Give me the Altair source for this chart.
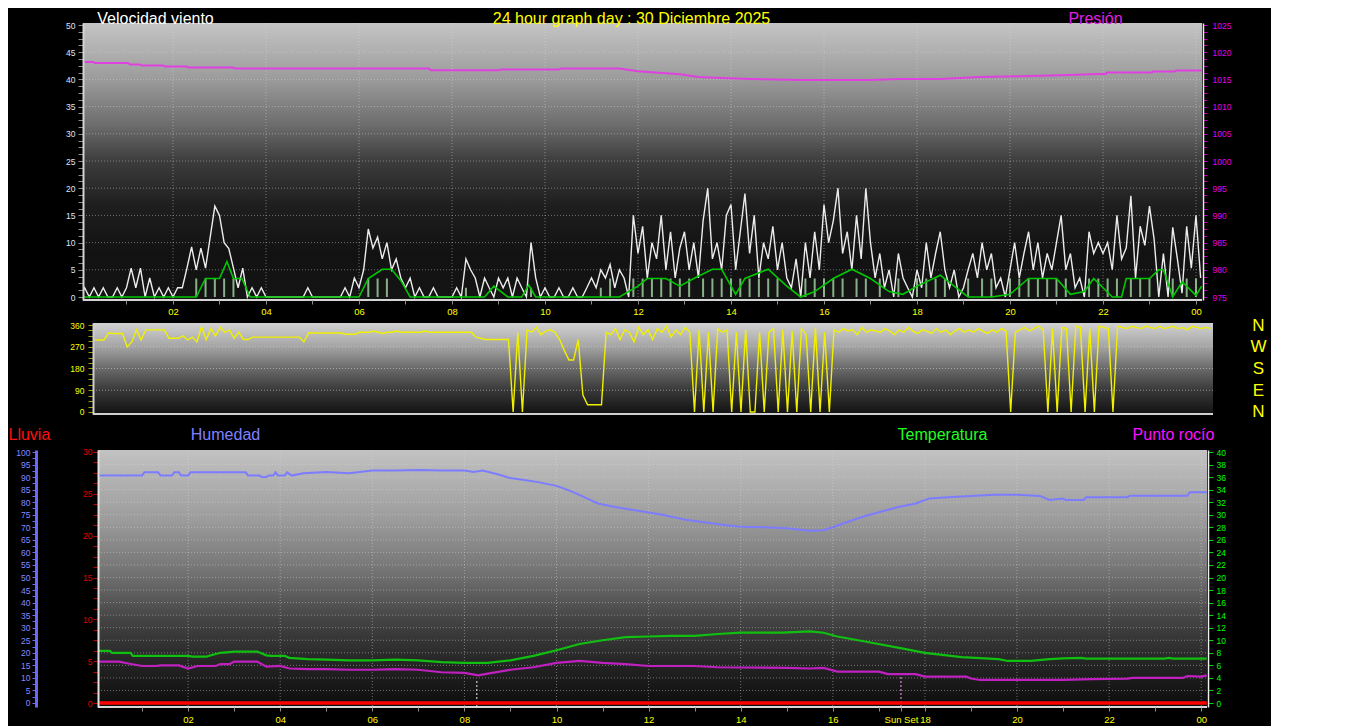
import altair as alt
import pandas as pd

FONT = "Liberation Sans"

# ---------------- shared time axis ----------------
hour_ticks = list(range(1, 25))
grid_hours = [2, 4, 6, 8, 10, 12, 14, 16, 18, 20, 22, 24]
sunrise_hour = 8.27
sunset_hour = 17.48
sunset_label = "Sun Set"
graph_title = "24 hour graph day : 30 Diciembre 2025"

# ---------------- top panel: wind speed (readings every 0.1 h) ----------------
wind_speed = [
    0, 1.7, 0, 1.7, 0, 1.7, 0, 0, 1.7, 0,
    1.7, 5.3, 1.7, 5.3, 0, 3.5, 0, 1.7, 0, 1.7,
    0, 1.7, 1.7, 5.3, 9.2, 5, 9, 5.3, 11, 16.7,
    15, 10, 8.9, 5.3, 1.7, 5.3, 0, 1.7, 0, 1.7,
    0, 0, 0, 0, 0, 0, 0, 0, 0, 1.7,
    0, 0, 0, 0, 0, 0, 0, 1.7, 0, 3.5,
    1.7, 5, 12.5, 9, 11, 7, 10, 5, 7, 3.5,
    1.7, 3.5, 0, 1.7, 0, 0, 1.7, 0, 0, 0,
    0, 1.7, 0, 7, 5, 3.5, 0, 3.5, 1.7, 0,
    3.5, 1.7, 3.5, 0, 3.5, 1.7, 0, 10, 3.5, 0,
    1.7, 0, 0, 1.7, 0, 0, 1.7, 0, 0, 1.7,
    3.5, 1.7, 5, 3.5, 6, 1.7, 5, 3.5, 0, 15,
    8, 13, 3.5, 10, 7, 15, 5, 12, 3.5, 9,
    12, 5, 10, 3.5, 14, 20, 7, 10, 5, 15,
    17, 5, 12, 19, 8, 15, 3.5, 10, 7, 13,
    5, 10, 3.5, 1.7, 7, 0, 10, 3.5, 12, 5,
    17, 10, 14, 20, 8, 12, 5, 15, 7, 20,
    10, 3.5, 8, 1.7, 5, 0, 8, 3.5, 1.7, 0,
    5, 1.7, 10, 3.5, 8, 12, 5, 1.7, 5, 0,
    1.7, 5, 8, 3.5, 10, 5, 8, 1.7, 3.5, 0,
    5, 10, 3.5, 8, 12, 5, 10, 3.5, 8, 5,
    10, 15, 5, 8, 1.7, 3.5, 0, 12, 8, 10,
    8, 10, 5, 15, 7, 9, 18.6, 3.5, 13, 9.5,
    16.7, 10.6, 0, 8, 0, 12.8, 7, 0.7, 13, 5.3,
    15, 3.5,
]
wind_pale = [
    0, 0, 0, 0, 0, 0, 0, 0, 0, 0,
    0, 0, 0, 0, 0, 0, 0, 0, 0, 0,
    0, 0, 0, 0, 0, 3.4, 0, 3.4, 0, 3.4,
    0, 3.4, 0, 3.4, 0, 0, 0, 0, 0, 0,
    0, 0, 0, 0, 0, 0, 0, 0, 0, 0,
    0, 0, 0, 0, 0, 0, 0, 0, 0, 0,
    0, 0, 3.4, 0, 3.4, 0, 3.4, 0, 0, 0,
    0, 0, 0, 0, 0, 0, 0, 0, 0, 0,
    0, 0, 0, 1.7, 0, 0, 0, 0, 0, 0,
    0, 0, 0, 0, 0, 0, 0, 1.7, 0, 0,
    0, 0, 0, 0, 0, 0, 0, 0, 0, 0,
    0, 0, 1.7, 0, 3.4, 0, 0, 0, 0, 3.4,
    0, 3.4, 0, 3.4, 0, 3.4, 0, 3.4, 0, 3.4,
    0, 3.4, 0, 0, 3.4, 0, 3.4, 0, 3.4, 0,
    3.4, 0, 3.4, 0, 3.4, 0, 3.4, 0, 3.4, 0,
    3.4, 0, 0, 0, 0, 0, 3.4, 0, 3.4, 0,
    3.4, 0, 3.4, 0, 3.4, 0, 0, 3.4, 0, 3.4,
    0, 0, 3.4, 0, 0, 0, 3.4, 0, 0, 0,
    3.4, 0, 3.4, 0, 3.4, 0, 3.4, 0, 0, 0,
    0, 3.4, 0, 0, 3.4, 0, 3.4, 0, 0, 0,
    3.4, 0, 3.4, 0, 3.4, 0, 3.4, 0, 3.4, 0,
    3.4, 0, 3.4, 0, 0, 0, 0, 3.4, 0, 3.4,
    0, 3.4, 0, 3.4, 0, 0, 3.4, 0, 3.4, 0,
    3.4, 0, 0, 0, 0, 3.4, 0, 0, 3.4, 0,
    3.4, 0,
]
wind_avg_t = [0.0, 2.5, 2.7, 3.0, 3.16, 3.3, 3.48, 3.66, 6.0, 6.2,
              6.5, 6.7, 6.9, 7.1, 8.7, 8.9, 9.2, 9.5, 9.65, 9.8,
              11.6, 12.0, 12.2, 12.6, 12.9, 13.2, 13.6, 13.8, 14.1, 14.3,
              14.8, 15.2, 15.5, 15.8, 16.2, 16.6, 17.0, 17.4, 17.7, 18.0,
              18.5, 18.8, 19.1, 19.6, 20.0, 20.4, 21.0, 21.3, 21.6, 21.8,
              22.2, 22.4, 22.5, 23.0, 23.2, 23.3, 23.5, 23.7, 24.0, 24.12]
wind_avg_v = [0, 0, 3.4, 3.4, 6.5, 3.4, 3.4, 0, 0, 3.4,
              5.1, 5.1, 3.0, 0, 0, 2.0, 0, 0, 2.2, 0,
              0, 2.0, 3.4, 3.4, 2.0, 3.4, 5.1, 5.1, 0.5, 3.4,
              5.1, 2.0, 0, 1.0, 3.4, 5.1, 3.4, 1.0, 0.5, 2.0,
              4.0, 2.0, 0, 0, 0.5, 3.4, 3.4, 0.5, 1.0, 3.4,
              0, 0, 3.4, 3.4, 5.0, 5.0, 0, 2.8, 0.3, 2.0]
pressure_t = [0.08, 0.28, 0.32, 1.03, 1.08, 1.29, 1.33, 1.78, 1.83, 2.30,
              2.32, 3.29, 3.33, 7.5, 7.55, 9.0, 9.05, 10.3, 10.35, 11.6,
              12.0, 12.9, 13.3, 13.8, 14.4, 15.5, 17.0, 17.6, 18.5, 19.35,
              20.2, 21.1, 21.9, 22.06, 22.08, 23.05, 23.08, 23.55, 23.57, 24.12]
pressure_v = [1018.21, 1018.21, 1018.03, 1018.03, 1017.73, 1017.73, 1017.55, 1017.55, 1017.38, 1017.38,
              1017.2, 1017.2, 1017.02, 1017.02, 1016.67, 1016.67, 1016.84, 1016.84, 1017.02, 1017.02,
              1016.5, 1015.96, 1015.43, 1015.25, 1015.07, 1014.89, 1014.89, 1015.07, 1015.07, 1015.43,
              1015.6, 1015.78, 1016.0, 1016.0, 1016.26, 1016.26, 1016.44, 1016.44, 1016.62, 1016.62]
wind_grid = [5, 10, 15, 20, 25, 30, 35, 40, 45]
wind_ticks = [i * 1.25 for i in range(41)]
pressure_ticks = [975 + i * 1.25 for i in range(41)]

# ---------------- middle panel: wind direction (every 0.1 h) ----------------
wind_dir = [
    298, 298, 298, 298, 327, 325, 325, 325, 269, 290,
    340, 298, 340, 340, 340, 340, 340, 305, 305, 305,
    315, 298, 310, 290, 352, 300, 345, 315, 350, 330,
    340, 305, 330, 300, 300, 310, 310, 310, 310, 310,
    310, 310, 310, 310, 310, 310, 290, 327, 327, 327,
    327, 327, 327, 327, 327, 322, 322, 322, 330, 330,
    330, 335, 330, 325, 330, 330, 335, 330, 330, 330,
    330, 330, 335, 330, 330, 330, 330, 330, 330, 330,
    330, 330, 330, 310, 305, 300, 300, 300, 300, 300,
    300, 0, 330, 0, 340, 330, 350, 320, 335, 340,
    330, 300, 255, 215, 215, 300, 70, 30, 30, 30,
    30, 330, 320, 345, 300, 340, 330, 290, 350, 320,
    340, 300, 345, 330, 355, 310, 340, 320, 350, 330,
    0, 340, 0, 330, 0, 345, 330, 340, 0, 330,
    0, 340, 0, 0, 330, 0, 330, 345, 0, 340,
    0, 335, 0, 345, 320, 0, 350, 0, 330, 0,
    340, 330, 345, 335, 340, 320, 350, 330, 340, 335,
    330, 345, 335, 320, 340, 330, 350, 335, 325, 340,
    335, 325, 345, 330, 340, 320, 335, 345, 330, 340,
    330, 345, 335, 325, 340, 330, 345, 335, 0, 330,
    340, 350, 335, 345, 355, 340, 0, 345, 0, 350,
    345, 0, 355, 350, 0, 345, 0, 355, 350, 345,
    0, 355, 350, 345, 355, 350, 345, 355, 350, 345,
    355, 345, 350, 355, 345, 350, 340, 355, 350, 345,
    350, 345,
]
dir_grid = [90, 180, 270]
dir_ticks = [i * 22.5 for i in range(17)]
compass_values = [0, 90, 180, 270, 360]
compass_labels = ["N", "E", "S", "W", "N"]

# ---------------- bottom panel: humidity, temperature, dew point, rain ----------------
hum_t = [0.04, 1.0, 1.05, 1.35, 1.4, 1.65, 1.7, 1.8, 1.85, 2.0,
         2.05, 3.25, 3.3, 3.55, 3.6, 3.7, 3.75, 3.85, 3.9, 3.95,
         4.1, 4.15, 4.25, 4.5, 5.0, 5.5, 6.0, 6.5, 7.0, 7.5,
         8.0, 8.2, 8.4, 8.7, 9.0, 9.3, 9.6, 10.0, 10.3, 10.6,
         10.9, 11.3, 11.8, 12.3, 12.8, 13.2, 13.6, 14.0, 14.5, 15.0,
         15.5, 15.8, 16.0, 16.3, 16.7, 17.0, 17.4, 17.8, 18.1, 18.5,
         19.0, 19.5, 20.0, 20.5, 20.7, 21.0, 21.05, 21.45, 21.5, 22.4,
         22.45, 23.7, 23.75, 24.12]
hum_v = [90.6, 90.6, 91.9, 91.9, 90.6, 90.6, 91.9, 91.9, 90.6, 90.6,
         91.9, 91.9, 90.6, 90.6, 90.0, 90.0, 90.6, 90.6, 91.9, 90.6,
         90.6, 91.9, 90.6, 91.5, 92.0, 91.5, 92.6, 92.6, 92.8, 92.6,
         92.6, 92.0, 92.6, 91.2, 89.6, 88.8, 88.0, 86.5, 84.5, 82.0,
         79.5, 78.0, 76.5, 75.0, 73.0, 72.0, 71.0, 70.2, 70.0, 69.6,
         68.6, 68.8, 70.0, 72.0, 74.5, 76.0, 78.0, 79.5, 81.5, 82.0,
         82.5, 83.0, 83.0, 82.5, 80.9, 81.5, 80.9, 80.9, 82.0, 82.0,
         82.6, 82.6, 84.0, 84.0]
temp_t = [0.04, 0.3, 0.35, 0.75, 0.8, 2.0, 2.1, 2.4, 2.5, 2.7,
          3.0, 3.5, 3.7, 3.8, 4.1, 4.2, 4.6, 5.0, 5.5, 6.0,
          6.5, 7.0, 7.5, 8.0, 8.5, 9.0, 9.5, 10.0, 10.5, 11.0,
          11.5, 12.0, 12.5, 13.0, 13.5, 14.0, 14.5, 14.9, 15.5, 15.8,
          16.1, 16.7, 17.5, 18.0, 18.8, 19.6, 19.8, 20.3, 20.7, 21.0,
          21.4, 21.5, 23.2, 23.3, 23.4, 24.12]
temp_v = [8.3, 8.3, 8.0, 8.0, 7.5, 7.5, 7.4, 7.4, 7.6, 8.0,
          8.2, 8.2, 7.6, 7.5, 7.5, 7.2, 7.0, 6.9, 6.8, 6.8,
          6.9, 6.8, 6.5, 6.4, 6.4, 6.8, 7.5, 8.4, 9.4, 10.0,
          10.5, 10.6, 10.7, 10.7, 11.0, 11.2, 11.2, 11.2, 11.4, 11.2,
          10.6, 9.8, 8.7, 8.0, 7.3, 7.0, 6.7, 6.7, 7.0, 7.1,
          7.2, 7.06, 7.06, 7.2, 7.06, 7.06]
dew_t = [0.04, 0.5, 0.7, 1.0, 1.3, 1.4, 1.8, 2.0, 2.2, 2.6,
         2.7, 2.9, 3.0, 3.5, 3.7, 4.0, 4.2, 4.6, 5.0, 5.5,
         6.0, 6.5, 7.0, 7.5, 8.0, 8.3, 8.6, 9.0, 9.5, 10.0,
         10.5, 11.0, 11.5, 12.0, 13.0, 13.5, 15.0, 15.5, 15.8, 16.1,
         17.0, 17.2, 17.8, 18.0, 18.9, 19.0, 19.2, 21.0, 21.6, 22.4,
         22.5, 23.6, 23.7, 24.0, 24.12]
dew_v = [6.6, 6.6, 6.3, 5.9, 5.9, 6.0, 6.0, 5.5, 5.9, 5.9,
         6.2, 6.2, 6.6, 6.6, 5.8, 5.9, 5.5, 5.4, 5.4, 5.3,
         5.3, 5.4, 5.3, 4.9, 4.8, 4.4, 4.8, 5.3, 5.7, 6.4,
         6.7, 6.4, 6.2, 5.9, 5.9, 5.7, 5.6, 5.5, 5.6, 5.0,
         5.0, 4.6, 4.6, 4.2, 4.2, 3.9, 3.67, 3.67, 3.8, 3.9,
         4.0, 4.0, 4.3, 4.2, 4.4]
rain_t = [0.04, 24.12]
rain_v = [0, 0]
sunrise_top = 3.7
sunset_top = 5.0
temp_grid = [2, 4, 6, 8, 10, 12, 14, 16, 18, 20, 22, 24, 26, 28, 30, 32, 34, 36, 38]
temp_ticks = [0, 2, 4, 6, 8, 10, 12, 14, 16, 18, 20, 22, 24, 26, 28, 30, 32, 34, 36, 38, 40]
rain_ticks = [i * 1.25 for i in range(25)]
hum_ticks = [i * 2.5 for i in range(41)]

# ---------------- layout (scale domains chosen to place the panels) ----------------
W = 1130
TOP_H, MID_H, BOT_H = 277, 91, 257
TOP_X = [0.0645, 24.366]
TOP_PLOT = [0.0645, 24.13]
WIND_Y = [-0.551, 50.368]
PRES_Y = [974.449, 1025.368]
MID_X = [-0.1505, 24.151]
MID_PLOT = [0.0645, 24.151]
DIR_Y = [-8.28, 368.28]
BOT_X = [-0.2823, 24.256]
BOT_PLOT = [0.0434, 24.126]
TEMP_Y = [-0.637, 40.319]
RAIN_Y = [-0.478, 30.239]
HUM_Y = [-1.594, 100.797]

HOUR_EXPR = (f"datum.value == {sunset_hour} ? '{sunset_label}' : "
             "(datum.value % 2 != 0 ? '' : (datum.value == 24 ? '00' : "
             "(datum.value < 10 ? '0' + datum.value : '' + datum.value)))")
EVERY5 = "datum.value % 5 == 0 ? '' + datum.value : ''"
EVERY90 = "datum.value % 90 == 0 ? '' + datum.value : ''"
COMPASS_EXPR = " : ".join(f"datum.value == {v} ? '{l}'" for v, l in zip(compass_values, compass_labels)) + " : ''"


def sc(dom):
    return alt.Scale(domain=dom, nice=False, zero=False)


def X(field, dom, axis=None):
    return alt.X(f"{field}:Q", scale=sc(dom), axis=axis)


def Y(field, dom, axis=None):
    return alt.Y(f"{field}:Q", scale=sc(dom), axis=axis)


def grad(stops):
    return alt.LinearGradient(gradient="linear",
                              stops=[alt.GradientStop(color=c, offset=o) for o, c in stops],
                              x1=0, x2=0, y1=0, y2=1)


def background(xdom, plot, ydom, stops, xaxis):
    df = pd.DataFrame({"t0": [plot[0]], "t1": [plot[1]], "y0": [ydom[0]], "y1": [ydom[1]]})
    return alt.Chart(df).mark_rect(fill=grad(stops)).encode(
        x=X("t0", xdom, xaxis), x2="t1", y=Y("y0", ydom), y2="y1")


def hgrid(values, xdom, plot, ydom, xaxis, yaxis=None, opacity=0.45):
    df = pd.DataFrame({"g": values, "t0": plot[0], "t1": plot[1]})
    return alt.Chart(df).mark_rule(color="#dcdcdc", strokeDash=[1, 2], strokeWidth=1, opacity=opacity).encode(
        x=X("t0", xdom, xaxis), x2="t1", y=Y("g", ydom, yaxis))


def vgrid(xdom, xaxis):
    df = pd.DataFrame({"h": grid_hours})
    return alt.Chart(df).mark_rule(color="#dcdcdc", strokeDash=[1, 2], strokeWidth=1, opacity=0.45).encode(
        x=X("h", xdom, xaxis))


def floor(xdom, plot, ydom, color, xaxis):
    df = pd.DataFrame({"t0": [plot[0]], "t1": [plot[1]], "y": [ydom[0]]})
    return alt.Chart(df).mark_rule(color=color, strokeWidth=2).encode(
        x=X("t0", xdom, xaxis), x2="t1", y=Y("y", ydom))


def line(t, v, xdom, ydom, color, width, xaxis, axis=None, opacity=1.0, interp="linear", tmin=None):
    df = pd.DataFrame({"t": t, "v": v})
    ch = alt.Chart(df)
    if tmin is not None:
        ch = ch.transform_filter(alt.datum.t >= tmin)
    return ch.mark_line(color=color, strokeWidth=width, opacity=opacity, clip=True, interpolate=interp).encode(
        x=X("t", xdom, xaxis), y=Y("v", ydom, axis))


def spikes(t, v, xdom, ydom, color, width, xaxis, opacity=1.0):
    df = pd.DataFrame({"t": t, "v": v, "base": 0})
    return alt.Chart(df).transform_filter(alt.datum.v > 0).mark_rule(
        color=color, strokeWidth=width, opacity=opacity).encode(
        x=X("t", xdom, xaxis), y=Y("v", ydom), y2="base")


COMMON = dict(grid=False, labelOverlap=False, zindex=1, titleAngle=0, titleBaseline="alphabetic",
              titleFontSize=16, titleFontWeight="normal", titleFont=FONT, labelFont=FONT, minExtent=0)

top_x_axis = alt.Axis(orient="bottom", values=hour_ticks, labelExpr=HOUR_EXPR, domain=False, ticks=True,
                      tickSize=4, tickColor="#8c8c8c", labels=True,
                      labelColor="#ffff00", labelFontSize=9.5, labelPadding=2, labelFlush=False,
                      title=graph_title, titleColor="#ffff00", titleAlign="center",
                      titleX=548, titleY=-TOP_H, **COMMON)
wind_axis = alt.Axis(orient="left", values=wind_ticks, labelExpr=EVERY5, domain=True, domainColor="#d4d4d4",
                     domainWidth=2, tickSize=5, tickColor="#8c8c8c", labelColor="#dde6ff", labelFontSize=8.5,
                     labelPadding=3, title="Velocidad viento", titleColor="#ffffff", titleAlign="center",
                     titleX=72, titleY=0, **COMMON)
pres_axis = alt.Axis(orient="right", offset=-10, values=pressure_ticks, labelExpr=EVERY5, domain=True,
                     domainColor="#ececec", domainWidth=1.5, tickSize=4, tickColor="#c000c0",
                     labelColor="#e000e0", labelFontSize=8.5, labelPadding=5, title="Presión",
                     titleColor="#e020e0", titleAlign="center", titleX=-108, titleY=0, **COMMON)
dir_axis = alt.Axis(orient="left", offset=-10, values=dir_ticks, labelExpr=EVERY90, domain=True,
                    domainColor="#d0d0d0", domainWidth=2, tickSize=5, tickColor="#a0a000",
                    labelColor="#ffff00", labelFontSize=8.5, labelPadding=4, title=None, **COMMON)
compass_axis = alt.Axis(orient="right", values=compass_values, labelExpr=COMPASS_EXPR, domain=False,
                        ticks=False, tickSize=0, labelPadding=45, labelAlign="center", labelBaseline="middle",
                        labelColor="#ffff00", labelFontSize=17, title=None, **COMMON)
bot_x_axis = alt.Axis(orient="bottom", values=hour_ticks + [sunset_hour], labelExpr=HOUR_EXPR, domain=False,
                      ticks=True, tickSize=4, labels=True,
                      tickColor="#8c8c8c", labelColor="#ffff00", labelFontSize=9.5, labelPadding=3,
                      labelFlush=False, title=None, **COMMON)
rain_axis = alt.Axis(orient="left", offset=-15, values=rain_ticks, labelExpr=EVERY5, domain=True,
                     domainColor="#e2e2e2", domainWidth=2, tickSize=5, tickColor="#c00000",
                     labelColor="#e00000", labelFontSize=8.5, labelPadding=1, title="Lluvia",
                     titleColor="#ff1010", titleAlign="left", titleX=-90, titleY=-10.5, **COMMON)
hum_axis = alt.Axis(orient="left", offset=47, values=hum_ticks, labelExpr=EVERY5, domain=True,
                    domainColor="#6a6af0", domainWidth=3, tickSize=4, tickColor="#6a6aff",
                    labelColor="#8a8aff", labelFontSize=8.5, labelPadding=2, title="Humedad",
                    titleColor="#8080ff", titleAlign="center", titleX=189, titleY=-10.5, **COMMON)
temp_axis = alt.Axis(orient="right", offset=-5, values=temp_ticks, labelExpr="'' + datum.value", domain=True,
                     domainColor="#f0f0f0", domainWidth=1.5, tickSize=5, tickColor="#00d000",
                     labelColor="#00ff00", labelFontSize=8.5, labelPadding=3, title="Temperatura",
                     titleColor="#20ff20", titleAlign="center", titleX=-266, titleY=-10.5, **COMMON)
dew_axis = alt.Axis(orient="right", offset=-5, domain=False, ticks=False, labels=False,
                    title="Punto rocío", titleColor="#ff10ff", titleAlign="center",
                    titleX=-35, titleY=-10.5, **COMMON)

top_stops = [(0, "#c4c4c4"), (0.2, "#9c9c9c"), (0.37, "#6c6c6c"), (0.5, "#3c3c3c"),
             (0.66, "#1e1e1e"), (0.83, "#121212"), (1, "#141414")]
mid_stops = [(0, "#d2d2d2"), (0.25, "#a6a6a6"), (0.5, "#6a6a6a"), (0.75, "#363636"), (1, "#121212")]
bot_stops = [(0, "#c2c2c2"), (0.27, "#9c9c9c"), (0.47, "#747474"), (0.66, "#444444"),
             (0.82, "#262626"), (1, "#0c0c0c")]

wind_time = [round(i * 0.1, 2) for i in range(len(wind_speed))]

TA = top_x_axis
top = alt.layer(
    background(TOP_X, TOP_PLOT, WIND_Y, top_stops, TA),
    hgrid(wind_grid, TOP_X, TOP_PLOT, WIND_Y, TA),
    vgrid(TOP_X, TA),
    floor(TOP_X, TOP_PLOT, WIND_Y, "#d4d4d4", TA),
    spikes(wind_time, wind_pale, TOP_X, WIND_Y, "#b0e4b0", 2, TA, opacity=0.75),
    line(wind_time, wind_speed, TOP_X, WIND_Y, "#ececec", 1.4, TA, axis=wind_axis),
    line(wind_avg_t, wind_avg_v, TOP_X, WIND_Y, "#00c800", 1.6, TA),
    line(pressure_t, pressure_v, TOP_X, PRES_Y, "#e040e0", 2, TA, axis=pres_axis),
).resolve_scale(y="independent").properties(width=W, height=TOP_H)

mid = alt.layer(
    background(MID_X, MID_PLOT, DIR_Y, mid_stops, None),
    hgrid(dir_grid, MID_X, MID_PLOT, DIR_Y, None, compass_axis, opacity=0.55),
    floor(MID_X, MID_PLOT, DIR_Y, "#cfcfcf", None),
    line(wind_time, wind_dir, MID_X, DIR_Y, "#f0f000", 1.4, None, axis=dir_axis, tmin=MID_PLOT[0]),
).resolve_scale(y="independent").properties(width=W, height=MID_H)

BA = bot_x_axis
sunrise_df = pd.DataFrame({"t": [sunrise_hour], "lo": [TEMP_Y[0]], "hi": [sunrise_top]})
sunset_df = pd.DataFrame({"t": [sunset_hour], "lo": [TEMP_Y[0]], "hi": [sunset_top]})
sunrise_rule = alt.Chart(sunrise_df).mark_rule(color="#f0f0f0", strokeDash=[2, 2], strokeWidth=1).encode(
    x=X("t", BOT_X, BA), y=Y("lo", TEMP_Y), y2="hi")
sunset_rule = alt.Chart(sunset_df).mark_rule(color="#ffa0ff", strokeDash=[2, 2], strokeWidth=1).encode(
    x=X("t", BOT_X, BA), y=Y("lo", TEMP_Y), y2="hi")

bot = alt.layer(
    background(BOT_X, BOT_PLOT, TEMP_Y, bot_stops, BA),
    hgrid(temp_grid, BOT_X, BOT_PLOT, TEMP_Y, BA),
    vgrid(BOT_X, BA),
    floor(BOT_X, BOT_PLOT, TEMP_Y, "#d8d8d8", BA),
    sunrise_rule,
    sunset_rule,
    line(hum_t, hum_v, BOT_X, HUM_Y, "#7c7cff", 2, BA, axis=hum_axis),
    line(temp_t, temp_v, BOT_X, TEMP_Y, "#10c010", 2.2, BA, axis=temp_axis),
    line(dew_t, dew_v, BOT_X, TEMP_Y, "#c020c0", 2.2, BA, axis=dew_axis),
    line(rain_t, rain_v, BOT_X, RAIN_Y, "#ff0000", 3.5, BA, axis=rain_axis),
).resolve_scale(y="independent").properties(width=W, height=BOT_H)

lower = alt.vconcat(mid, bot, spacing=36, bounds="flush").resolve_scale(x="independent", y="independent")

chart = alt.vconcat(top, lower, spacing=23, bounds="flush").resolve_scale(
    x="independent", y="independent"
).properties(
    padding={"left": 0, "top": 2, "right": 4, "bottom": 2}
).configure(background="#000000").configure_view(strokeWidth=0).configure_axis(
    labelFont=FONT, titleFont=FONT, titleFontWeight="normal"
)

chart.save("out.html", embed_options={"renderer": "svg", "actions": False})
